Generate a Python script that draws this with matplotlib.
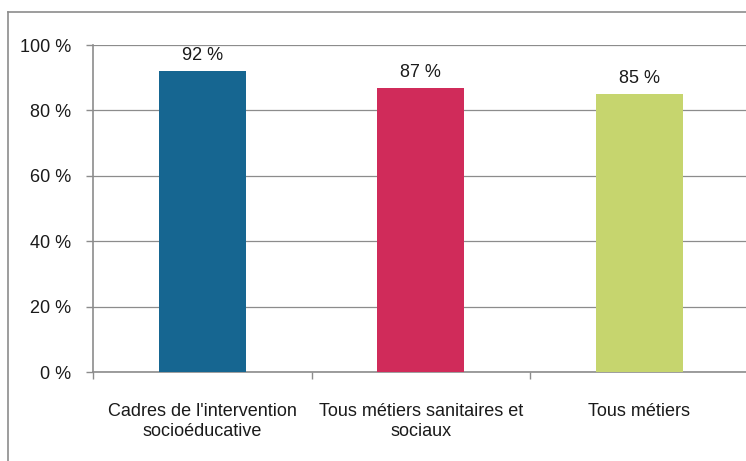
import matplotlib.pyplot as plt
from matplotlib.lines import Line2D

categories = ["Cadres de l'intervention\nsocioéducative",
              "Tous métiers sanitaires et\nsociaux",
              "Tous métiers"]
values = [92, 87, 85]
colors = ["#166691", "#D02B5A", "#C6D56E"]
yticks = [0, 20, 40, 60, 80, 100]

plt.rcParams['font.family'] = ['Liberation Sans', 'DejaVu Sans']
GRAY = "#8c8c8c"
TXT = "#1a1a1a"
FS = 13

W, H = 746, 461
fig = plt.figure(figsize=(W / 100, H / 100), dpi=100)

# axes area: left spine at x=93, 0 % at y=372, 100 % at y=45, runs past the right edge
ax = fig.add_axes([93 / W, (H - 372) / H, (748.5 - 93) / W, (372 - 45) / H])

x = range(len(values))
ax.bar(x, values, width=0.4, color=colors, zorder=3)
for i, v in enumerate(values):
    ax.annotate(f"{v} %", (i, v), xytext=(0, 5), textcoords="offset points",
                ha="center", va="bottom", fontsize=FS, color=TXT)

ax.set_xlim(-0.5, len(values) - 0.5)
ax.set_ylim(0, 100)
ax.set_yticks(yticks)
ax.set_yticklabels([f"{t} %" for t in yticks], fontsize=FS, color=TXT)
ax.yaxis.grid(True, color=GRAY, linewidth=0.9, zorder=0)

ax.set_xticks([i - 0.5 for i in range(len(values) + 1)])
ax.set_xticklabels([])
ax.set_xticks(list(x), minor=True)
ax.set_xticklabels(categories, minor=True, fontsize=FS, color=TXT,
                   linespacing=1.3)
ax.tick_params(axis="x", which="minor", length=0, pad=22)
ax.tick_params(axis="x", which="major", length=5, color=GRAY, width=1)
ax.tick_params(axis="y", length=5, color=GRAY, width=1, pad=11)

for side in ("top", "right"):
    ax.spines[side].set_visible(False)
for side in ("left", "bottom"):
    ax.spines[side].set_color(GRAY)
    ax.spines[side].set_linewidth(1.2)

# outer chart frame, cut by the image edges
fig.add_artist(Line2D([8 / W, 8 / W], [0, (H - 12) / H], color=GRAY, linewidth=1.2))
fig.add_artist(Line2D([8 / W, 1], [(H - 12) / H, (H - 12) / H], color=GRAY, linewidth=1.2))

fig.savefig("out.png", dpi=100)
